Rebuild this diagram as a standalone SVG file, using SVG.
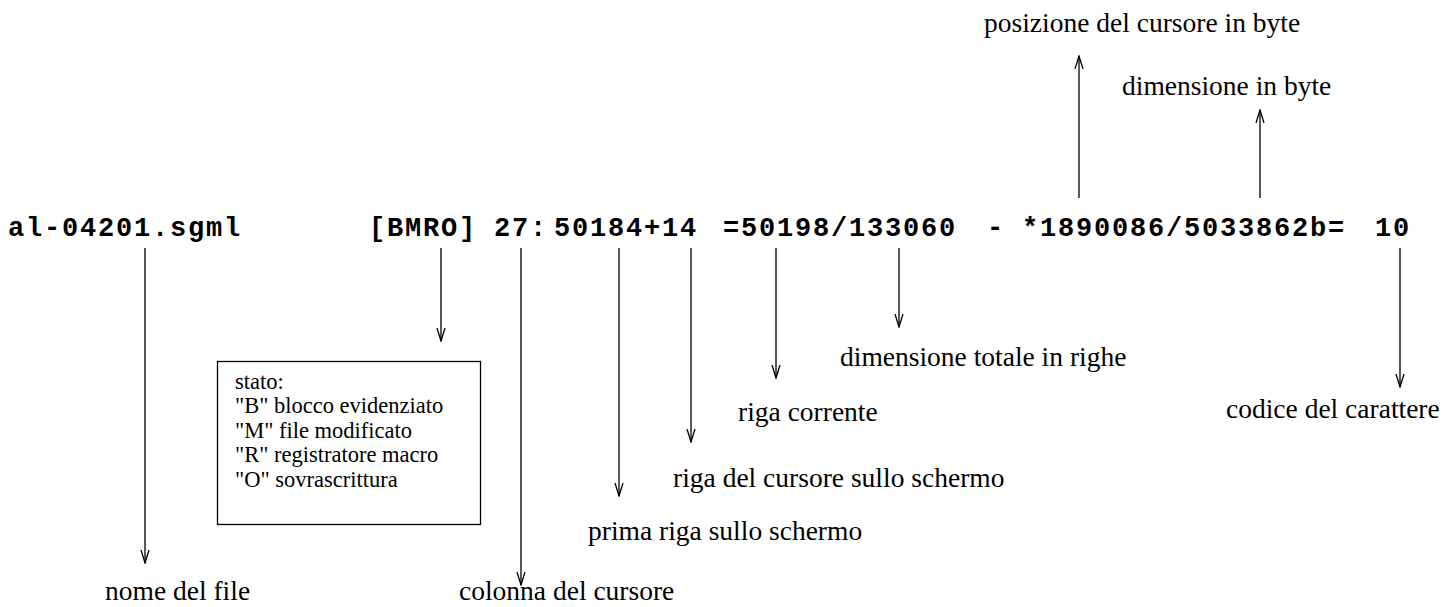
<svg xmlns="http://www.w3.org/2000/svg" width="1455" height="607" viewBox="0 0 1455 607">
<style>
.mono{font-family:"Liberation Mono","Courier New",monospace;font-weight:bold;font-size:27px;letter-spacing:1.8px;fill:#000}
.lbl{font-family:"Liberation Serif","Times New Roman",serif;font-size:27.5px;fill:#000}
.box{font-family:"Liberation Serif","Times New Roman",serif;font-size:22.5px;fill:#000}
.ln{stroke:#000;stroke-width:1.3;fill:none}
</style>
<defs>
<marker id="ah" markerUnits="userSpaceOnUse" markerWidth="14" markerHeight="12" refX="13" refY="4" orient="auto" viewBox="0 0 14 8">
<path d="M0,0 L13,4 L0,8" fill="none" stroke="#000" stroke-width="1.3"/>
</marker>
</defs>
<g id="status-line">
<text class="mono" x="8" y="236">al-04201.sgml</text>
<text class="mono" x="369" y="236">[BMRO]</text>
<text class="mono" x="494" y="236">27:</text>
<text class="mono" x="554" y="236">50184+14</text>
<text class="mono" x="723" y="236">=50198/133060</text>
<text class="mono" x="987" y="236">-</text>
<text class="mono" x="1022" y="236">*1890086/5033862b=</text>
<text class="mono" x="1375" y="236">10</text>
</g>
<g id="connectors">
<line class="ln" x1="145" y1="248" x2="145" y2="563" marker-end="url(#ah)"/>
<line class="ln" x1="441" y1="248" x2="441" y2="341" marker-end="url(#ah)"/>
<line class="ln" x1="521" y1="248" x2="521" y2="585" marker-end="url(#ah)"/>
<line class="ln" x1="619" y1="248" x2="619" y2="496" marker-end="url(#ah)"/>
<line class="ln" x1="691" y1="248" x2="691" y2="442" marker-end="url(#ah)"/>
<line class="ln" x1="776" y1="248" x2="776" y2="378" marker-end="url(#ah)"/>
<line class="ln" x1="899" y1="248" x2="899" y2="327" marker-end="url(#ah)"/>
<line class="ln" x1="1400" y1="248" x2="1400" y2="387" marker-end="url(#ah)"/>
<line class="ln" x1="1079" y1="198" x2="1079" y2="56" marker-end="url(#ah)"/>
<line class="ln" x1="1260" y1="198" x2="1260" y2="110" marker-end="url(#ah)"/>
</g>
<g id="stato">
<rect x="217.5" y="361.5" width="263" height="163" fill="none" stroke="#000" stroke-width="1.3"/>
<text class="box" x="235" y="389">stato:</text>
<text class="box" x="235" y="413">"B" blocco evidenziato</text>
<text class="box" x="235" y="438">"M" file modificato</text>
<text class="box" x="235" y="462">"R" registratore macro</text>
<text class="box" x="235" y="487">"O" sovrascrittura</text>
</g>
<g id="label-nome"><text class="lbl" x="105" y="600">nome del file</text></g>
<g id="label-colonna"><text class="lbl" x="459" y="600">colonna del cursore</text></g>
<g id="label-prima"><text class="lbl" x="588" y="540">prima riga sullo schermo</text></g>
<g id="label-rigacursore"><text class="lbl" x="673" y="487">riga del cursore sullo schermo</text></g>
<g id="label-rigacorrente"><text class="lbl" x="738" y="421">riga corrente</text></g>
<g id="label-dimtot"><text class="lbl" x="840" y="366">dimensione totale in righe</text></g>
<g id="label-codice"><text class="lbl" x="1226" y="418">codice del carattere</text></g>
<g id="label-posizione"><text class="lbl" x="984" y="32">posizione del cursore in byte</text></g>
<g id="label-dimbyte"><text class="lbl" x="1122" y="95">dimensione in byte</text></g>
</svg>
